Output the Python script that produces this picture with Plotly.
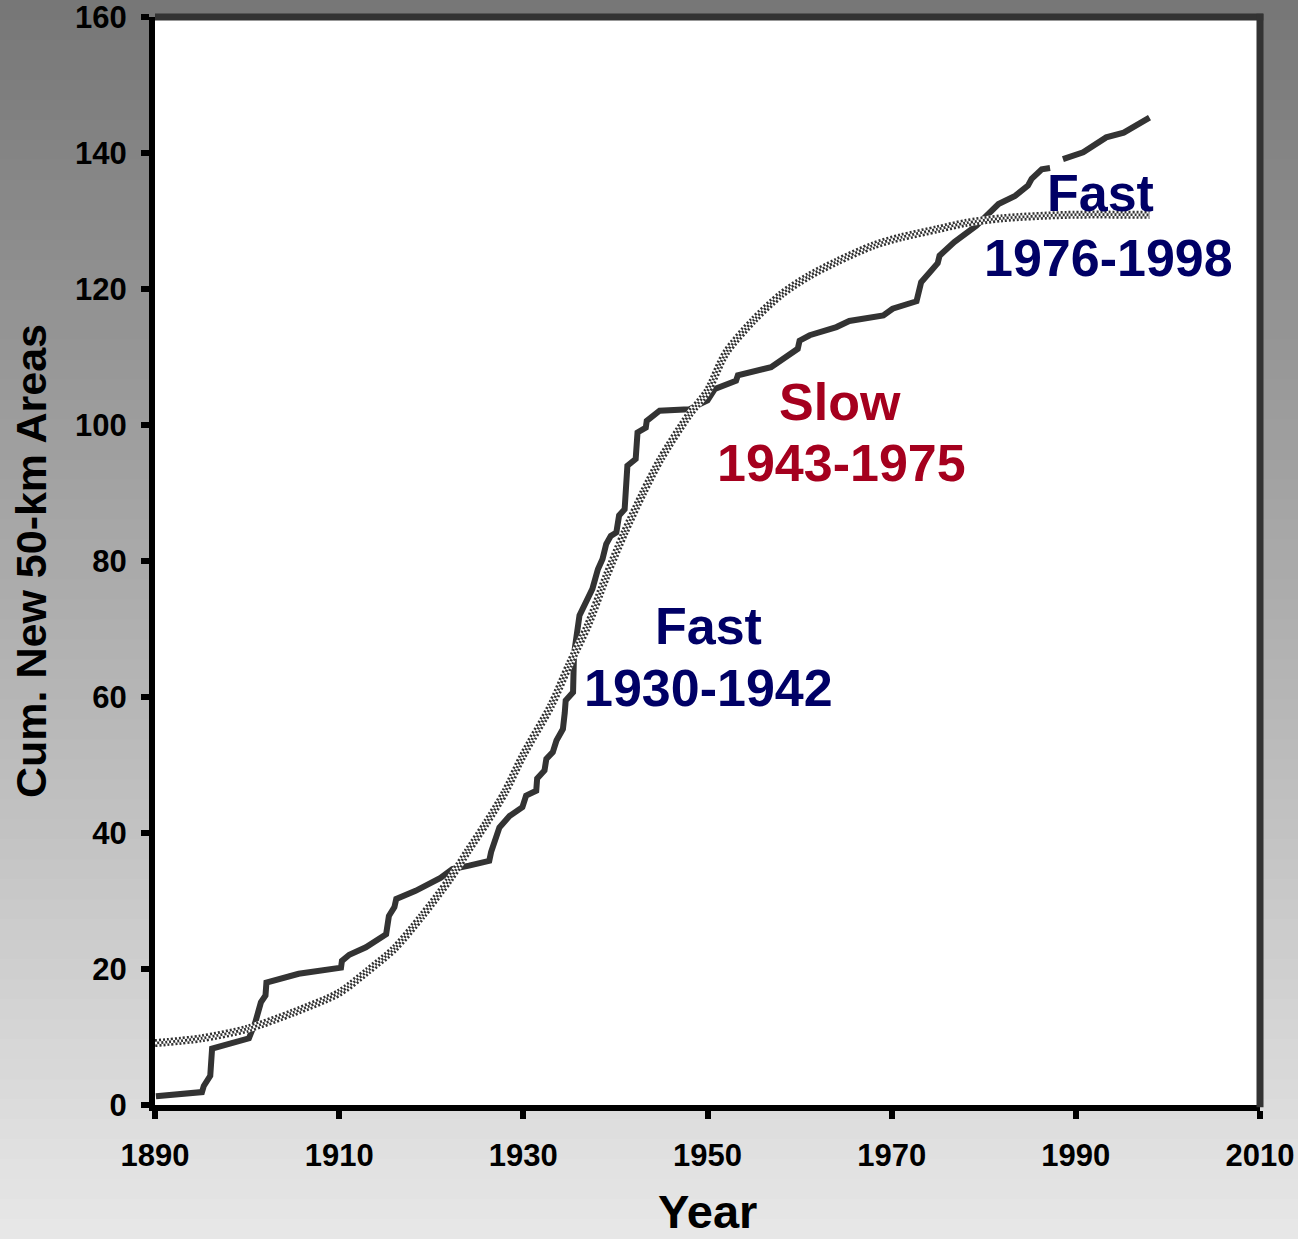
import plotly.graph_objects as go

# ---------------- data ----------------
years_obs = [1890.1, 1895.1, 1895.3, 1896.0, 1896.2, 1900.2, 1900.9, 1901.5, 1902.0, 1902.1,
             1905.6, 1910.2, 1910.3, 1911.1, 1912.9, 1914.3, 1915.1, 1915.4, 1916.0, 1916.2,
             1918.3, 1921.0, 1922.3, 1924.1, 1926.3, 1926.5, 1927.0, 1927.4, 1928.5, 1929.9,
             1930.3, 1931.4, 1931.5, 1932.3, 1932.5, 1933.2, 1933.6, 1934.3, 1934.5, 1934.6,
             1935.4, 1935.5, 1936.1, 1937.2, 1937.5, 1938.1, 1938.6, 1939.0, 1939.5, 1940.1,
             1940.4, 1941.0, 1941.2, 1941.3, 1942.2, 1942.4, 1943.3, 1943.4, 1944.8, 1948.0,
             1950.0, 1950.8, 1953.1, 1953.3, 1956.9, 1958.6, 1959.8, 1960.0, 1961.1, 1964.0,
             1965.4, 1969.1, 1970.1, 1972.7, 1973.0, 1973.2, 1974.1, 1975.0, 1975.2, 1976.8,
             1979.2, 1980.6, 1981.6, 1983.4, 1984.8, 1985.2, 1986.3, 1987.2, None, 1988.6,
             1990.8, 1993.3, 1995.2, 1998.0]
cum_obs = [1.3, 1.9, 2.8, 4.3, 8.3, 9.8, 12.2, 15.1, 16.1, 18.0,
           19.3, 20.2, 21.2, 22.1, 23.2, 24.5, 25.1, 27.8, 29.1, 30.3,
           31.5, 33.4, 34.7, 35.2, 35.9, 37.2, 39.1, 40.8, 42.5, 43.8,
           45.5, 46.2, 48.0, 49.2, 50.9, 51.9, 53.6, 55.3, 57.7, 59.5,
           60.7, 66.3, 72.0, 74.9, 75.9, 78.8, 80.3, 82.5, 83.7, 84.2,
           86.7, 87.6, 90.6, 94.0, 95.0, 98.9, 99.6, 100.6, 102.1, 102.3,
           103.6, 105.3, 106.5, 107.3, 108.5, 110.2, 111.2, 112.4, 113.2, 114.4,
           115.3, 116.1, 117.1, 118.2, 119.5, 121.0, 122.4, 123.8, 124.9, 126.9,
           129.3, 131.0, 132.5, 133.7, 135.2, 136.2, 137.6, 137.8, None, 139.1,
           140.1, 142.3, 143.0, 145.2]

years_fit = [1890, 1895, 1900, 1905, 1910, 1913, 1916, 1919, 1922, 1924, 1926, 1928, 1930,
             1933, 1935, 1937, 1939, 1941, 1943, 1945, 1948, 1950, 1952, 1955, 1958, 1961,
             1964, 1968, 1971, 1975, 1978, 1982, 1989, 1998]
cum_fit = [9.1, 9.8, 11.2, 13.6, 16.5, 19.6, 23.0, 27.8, 33.2, 37.4, 41.5, 46.0, 51.5,
           58.7, 64.8, 70.5, 77.7, 84.2, 90.0, 95.2, 101.5, 105.0, 110.6, 115.4, 119.2, 121.9,
           124.0, 126.4, 127.6, 128.8, 129.7, 130.4, 130.9, 130.9]

x_ticks = [1890, 1910, 1930, 1950, 1970, 1990, 2010]
y_ticks = [0, 20, 40, 60, 80, 100, 120, 140, 160]

labels = [
    # text, x (year), y (value), color
    ("Fast", 1992.7, 134.1, "#000066"),
    ("1976-1998", 1993.5, 124.6, "#000066"),
    ("Slow", 1964.4, 103.4, "#a5001e"),
    ("1943-1975", 1964.5, 94.4, "#a5001e"),
    ("Fast", 1950.1, 70.4, "#000066"),
    ("1930-1942", 1950.1, 61.3, "#000066"),
]

# ---------------- layout geometry ----------------
W, H = 1298, 1239
ML, MR, MT, MB = 155, 38, 17, 134
PW, PH = W - ML - MR, H - MT - MB
FONT = "Liberation Sans, Arial, sans-serif"

fig = go.Figure()

fig.add_trace(go.Scatter(x=years_obs, y=cum_obs, mode="lines", connectgaps=False,
                         line=dict(color="#333333", width=6), hoverinfo="skip"))

fit_kw = dict(x=years_fit, y=cum_fit, mode="lines", hoverinfo="skip")
fig.add_trace(go.Scatter(**fit_kw, line=dict(color="white", width=8, shape="spline", smoothing=0.8)))
fig.add_trace(go.Scatter(**fit_kw, line=dict(color="#333333", width=8, dash="2px,2px",
                                              shape="spline", smoothing=0.8)))
fig.add_trace(go.Scatter(**fit_kw, line=dict(color="white", width=2.7, shape="spline", smoothing=0.8)))
fig.add_trace(go.Scatter(**fit_kw, line=dict(color="#333333", width=2.7, dash="0px,2px,2px,0px",
                                              shape="spline", smoothing=0.8)))

# background gradient (bands) + white plot area + dark top/right border
shapes = []
N = 62
x0p, x1p = -ML / PW - 0.01, 1 + MR / PW + 0.01
for i in range(N):
    py0, py1 = i * H / N, (i + 1) * H / N + 1
    g = int(round(118 + (232 - 118) * ((py0 + py1) / 2) / H))
    shapes.append(dict(type="rect", xref="paper", yref="paper", layer="below",
                       x0=x0p, x1=x1p, y0=(H - MB - py1) / PH, y1=(H - MB - py0) / PH,
                       fillcolor=f"rgb({g},{g},{g})", line=dict(width=0)))
shapes.append(dict(type="rect", xref="paper", yref="paper", layer="below",
                   x0=0, x1=1, y0=0, y1=1, fillcolor="white", line=dict(width=0)))
shapes.append(dict(type="line", xref="paper", yref="paper", layer="above",
                   x0=0, x1=1.003, y0=1, y1=1, line=dict(color="#333333", width=7)))
shapes.append(dict(type="line", xref="paper", yref="paper", layer="above",
                   x0=1, x1=1, y0=-0.002, y1=1.003, line=dict(color="#333333", width=7)))

annotations = []
for text, x, y, c in labels:
    annotations.append(dict(text=text, x=x, y=y, xref="x", yref="y", showarrow=False,
                            xanchor="center", yanchor="middle",
                            font=dict(family=FONT, size=52, color=c, weight="bold")))
# x-axis title placed as paper annotation for exact positioning
annotations.append(dict(text="Year", x=0.5, y=-0.0975, xref="paper", yref="paper",
                        showarrow=False, xanchor="center", yanchor="middle",
                        font=dict(family=FONT, size=47, color="black", weight="bold")))

axis_common = dict(showline=True, linecolor="black", linewidth=6, ticks="outside",
                   ticklen=8, tickwidth=6, tickcolor="black", showgrid=False, zeroline=False,
                   ticklabeloverflow="allow",
                   tickfont=dict(family=FONT, size=31, color="black", weight="bold"))

fig.update_layout(
    width=W, height=H, margin=dict(l=ML, r=MR, t=MT, b=MB, autoexpand=False),
    paper_bgcolor="#e6e6e6", plot_bgcolor="white", showlegend=False,
    shapes=shapes, annotations=annotations,
    xaxis=dict(range=[1890, 2010], tickvals=x_ticks, ticktext=[str(v) for v in x_ticks],
               ticklabelstandoff=10, **axis_common),
    yaxis=dict(range=[0, 160], tickvals=y_ticks, ticktext=[str(v) for v in y_ticks],
               ticklabelstandoff=8,
               title=dict(text="Cum. New 50-km Areas",
                          font=dict(family=FONT, size=43, color="black", weight="bold"),
                          standoff=17),
               **axis_common),
)

fig.write_html("out.html")
